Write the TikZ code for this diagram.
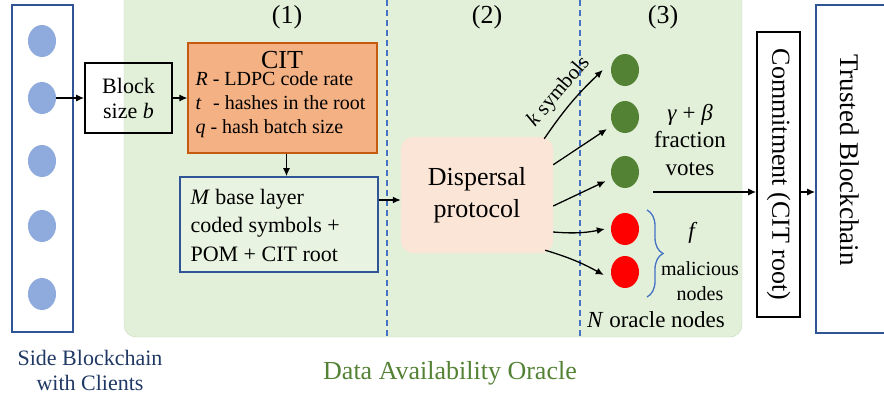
\documentclass[tikz,border=0pt]{standalone}
\usepackage{fontspec}
\setmainfont{Liberation Serif}
\usepackage{tikz}
\usetikzlibrary{arrows.meta,shapes.geometric,decorations.pathreplacing}
\definecolor{oraclebg}{HTML}{E2F0D9}
\definecolor{oracleedge}{HTML}{C9D9BE}
\definecolor{basefill}{HTML}{E8F3E1}
\definecolor{chainblue}{HTML}{2F5597}
\definecolor{clientblue}{HTML}{8FAADC}
\definecolor{citfill}{HTML}{F4B183}
\definecolor{citedge}{HTML}{C55A11}
\definecolor{dispfill}{HTML}{FBE5D6}
\definecolor{honestgreen}{HTML}{548235}
\definecolor{dashblue}{HTML}{4472C4}
\definecolor{sidetext}{HTML}{203864}

\begin{document}
\begin{tikzpicture}[x=1pt,y=-1pt,
  arr/.style={-{Latex[length=8pt,width=7pt]},line width=1.3pt},
  client/.style={ellipse,fill=clientblue,minimum width=28,minimum height=32,inner sep=0},
  honest/.style={ellipse,fill=honestgreen,minimum width=28,minimum height=32,inner sep=0},
  faulty/.style={ellipse,fill=red,minimum width=28,minimum height=32,inner sep=0},
  blackbox/.style={draw,line width=1.6pt,inner sep=0},
  bluebox/.style={draw=chainblue,line width=1.6pt,inner sep=0},
  divider/.style={dashblue,line width=1.2pt,dash pattern=on 6pt off 4pt}]

\useasboundingbox (0,0) rectangle (884,402);
\fill[oraclebg,draw=oracleedge,rounded corners=12pt] (124,-12) rectangle (742,337);

\draw[divider] (387,0) -- (387,337);
\draw[divider] (580,0) -- (580,337);

% side chain
\node[bluebox,minimum width=61,minimum height=327] (side) at (42.5,168.5) {};
\foreach \y [count=\i] in {41,98,161,226,294}
  \node[client] (c\i) at (42,\y) {};

\node[blackbox,minimum width=87,minimum height=70,align=center,font=\fontsize{22}{25}\selectfont] (block) at (128.5,98) {Block\\size \textit{b}};

% (1)
\node[draw=citedge,fill=citfill,line width=1.2pt,minimum width=189,minimum height=110] (cit) at (282.5,98) {};
\node[font=\fontsize{26}{30}\selectfont] (cittitle) at (282,60) {CIT};
\node[anchor=west,align=left,font=\fontsize{20}{24}\selectfont] (citpar) at (192,105) {\textit{R} - LDPC code rate\\\textit{t}\,\, - hashes in the root\\\textit{q} - hash batch size};

\node[bluebox,fill=basefill,minimum width=198,minimum height=95] (base) at (279,224.5) {};
\node[anchor=west,align=left,font=\fontsize{22}{28.5}\selectfont] (basetxt) at (187,225) {\textit{M} base layer\\coded symbols +\\POM + CIT root};

% (2)
\node[fill=dispfill,rounded corners=12pt,minimum width=152,minimum height=116,align=center,font=\fontsize{26}{32}\selectfont] (disp) at (477,195) {Dispersal\\protocol};

\node[font=\fontsize{26}{30}\selectfont] (p1) at (287,17) {(1)};
\node[font=\fontsize{26}{30}\selectfont] (p2) at (487,17) {(2)};
\node[font=\fontsize{26}{30}\selectfont] (p3) at (663,17) {(3)};

% (3)
\foreach \y [count=\i] in {70,117,172}
  \node[honest] (h\i) at (625,\y) {};
\node[faulty] (m1) at (625,229) {};
\node[faulty] (m2) at (625,272) {};

\draw[arr] (block) -- (cit);
\draw[arr] (c2) -- (block);
\draw[arr] ([xshift=4pt]cit.south) -- ([xshift=4pt]cit.south |- base.north);
\draw[arr] ([yshift=24.5pt]base.east) -- ([yshift=24.5pt]base.east -| disp.west);

\draw[arr] ([xshift=-9pt,yshift=-2pt]disp.north east) to[bend left=6]
  node[midway,sloped,above=3pt,font=\fontsize{21}{24}\selectfont] {\textit{k} symbols} ([xshift=-8pt]h1.west);
\draw[arr,shorten >=7pt] ([yshift=-28pt]disp.north east) -- (h2);
\draw[arr,shorten >=7pt] ([yshift=-11pt]disp.east) -- (h3);
\draw[arr] ([yshift=-37pt]disp.east) to[bend right=8] ([xshift=-6pt]m1.west);
\draw[arr] ([xshift=-8pt,yshift=3pt]disp.south east) to[bend left=6] ([xshift=-7pt,yshift=-3pt]m2.west);

\draw[dashblue,line width=1.3pt,decorate,decoration={brace,amplitude=16pt}] (647,210) -- (647,297);

\node[align=center,font=\fontsize{23}{27.5}\selectfont] (votes) at (690,140) {\textit{γ} + \textit{β}\\fraction\\votes};
\node[font=\fontsize{23}{27}\selectfont] (ftxt) at (693,233) {\textit{f}};
\node[align=center,font=\fontsize{20}{25}\selectfont] (maltxt) at (700,281) {malicious\\nodes};
\node[font=\fontsize{23}{27}\selectfont] (ntxt) at (656,320) {\textit{N} oracle nodes};

% trusted chain
\coordinate (vote) at (653,192);
\node[blackbox,rotate=-90,minimum width=285,minimum height=43,font=\fontsize{26}{30}\selectfont] (commit) at (778.5,174.5) {Commitment (CIT root)};
\node[bluebox,minimum width=74,minimum height=328] (trusted) at (853,169) {};
\node[rotate=-90,font=\fontsize{27}{30}\selectfont] (trustedtxt) at (850,160) {Trusted Blockchain};
\draw[arr] (vote) -- (vote -| commit.south);
\draw[arr] (vote -| commit.north) -- (vote -| trusted.west);

\node[align=center,text=sidetext,font=\fontsize{22}{25}\selectfont] (sidelbl) at (90,370) {Side Blockchain\\with Clients};
\node[text=honestgreen,font=\fontsize{26}{30}\selectfont] (oraclelbl) at (450,373) {Data Availability Oracle};
\end{tikzpicture}
\end{document}
